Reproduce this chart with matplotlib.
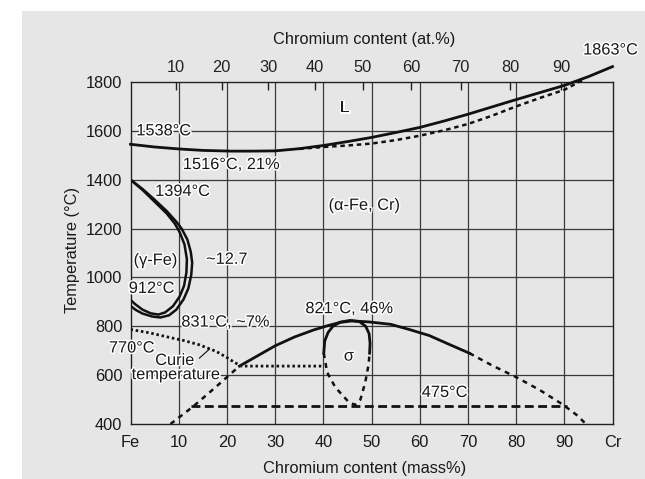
import numpy as np
import matplotlib
matplotlib.use("Agg")
import matplotlib.pyplot as plt
from matplotlib.patches import Rectangle
import matplotlib.patheffects as pe

plt.rcParams['font.family'] = ['Liberation Sans', 'DejaVu Sans']

# ---------------- data (mass% Cr, temperature in °C) ----------------
liq_x = [0, 5, 10, 15, 21, 25, 30, 35, 40, 45, 50, 55, 60, 65, 70, 75, 80, 85, 90, 95, 100]
liq_T = [1545, 1534, 1526, 1520, 1517, 1517, 1518, 1527, 1540, 1556, 1573, 1593, 1614, 1640, 1668, 1698, 1728, 1757, 1786, 1822, 1863]

sol_x = [35, 40, 45, 50, 55, 60, 65, 70, 75, 80, 85, 90, 94]
sol_T = [1526, 1534, 1540, 1548, 1562, 1580, 1602, 1628, 1662, 1700, 1735, 1768, 1810]

gam_out_x = [0, 2.5, 5, 7.5, 9.5, 10.6, 11.8, 12.5, 12.8, 12.6, 12.0, 11.0, 9.5, 8.0, 6.2, 4.5, 2.5, 1.0, 0]
gam_out_T = [1400, 1362, 1318, 1272, 1228, 1200, 1155, 1105, 1060, 1010, 955, 910, 868, 845, 836, 840, 852, 868, 884]

gam_in_x = [0, 2.5, 5, 7.5, 9.2, 10.2, 11.2, 11.7, 11.6, 11.1, 10.2, 8.8, 7.2, 5.8, 4.2, 2.5, 1.0, 0]
gam_in_T = [1400, 1358, 1310, 1262, 1220, 1185, 1135, 1075, 1020, 965, 922, 882, 857, 848, 853, 868, 890, 908]

curie_x = [0, 4, 7.5, 11, 14.3, 17.8, 20, 21.5, 23, 30, 40]
curie_T = [787, 773, 757, 742, 724, 697, 672, 653, 637, 637, 637]

sig_solid_x = [22.6, 26, 30, 34, 38, 41, 43.5, 46, 49.4, 54, 58, 62, 66, 70.3]
sig_solid_T = [637, 675, 720, 756, 785, 803, 816, 822, 818, 808, 786, 762, 727, 690]

sig_dash_r_x = [70.3, 75, 80, 85, 89.5, 92.5, 94.5]
sig_dash_r_T = [690, 640, 592, 538, 482, 438, 400]

sig_dash_l_x = [8.3, 12.9, 17.5, 22.6]
sig_dash_l_T = [400, 470, 548, 637]

loop_top_x = [40.1, 40.3, 41.0, 42.0, 43.5, 45.5, 47.5, 48.8, 49.5, 49.7, 49.6]
loop_top_T = [690, 740, 775, 800, 817, 824, 819, 800, 770, 730, 690]

loop_bot_x = [40.1, 40.8, 42.5, 45.3, 46.6, 47.7, 48.7, 49.4, 49.6]
loop_bot_T = [690, 611, 550, 489, 478, 500, 570, 644, 690]

iso475_x = [12.5, 90.6]
iso475_T = [475, 475]

bottom_ticks = [0, 10, 20, 30, 40, 50, 60, 70, 80, 90, 100]
bottom_labels = ['Fe', '10', '20', '30', '40', '50', '60', '70', '80', '90', 'Cr']
left_ticks = [400, 600, 800, 1000, 1200, 1400, 1600, 1800]
top_ticks_at = [10, 20, 30, 40, 50, 60, 70, 80, 90]

labels = [
    ("L", 44.4, 1696, 'center'),
    ("1538°C", 1.2, 1600, 'left'),
    ("1516°C, 21%", 20.9, 1462, 'center'),
    ("1394°C", 10.8, 1352, 'center'),
    ("(α-Fe, Cr)", 48.5, 1295, 'center'),
    ("(γ-Fe)", 5.2, 1070, 'center'),
    ("~12.7", 20.0, 1074, 'center'),
    ("912°C", 4.4, 955, 'center'),
    ("831°C, ~7%", 19.7, 817, 'center'),
    ("821°C, 46%", 45.4, 872, 'center'),
    ("770°C", 0.3, 711, 'center'),
    ("Curie", 9.2, 660, 'center'),
    ("temperature", 9.4, 602, 'center'),
    ("σ", 45.3, 678, 'center'),
    ("475°C", 65.2, 529, 'center'),
    ("1863°C", 99.6, 1931, 'center'),
]

M_FE, M_CR = 55.845, 51.996


def at2mass(a):
    a = np.asarray(a, dtype=float)
    return 100.0 * M_CR * a / (M_CR * a + M_FE * (100.0 - a))


def mass2at(m):
    m = np.asarray(m, dtype=float)
    return 100.0 * (m / M_CR) / (m / M_CR + (100.0 - m) / M_FE)


W, H = 645, 479
fig = plt.figure(figsize=(W / 100, H / 100), dpi=100)
fig.patch.set_facecolor('white')
bg = '#e6e6e6'
fig.add_artist(Rectangle((22 / W, 0), 1 - 22 / W, 1 - 11 / H, transform=fig.transFigure,
                         facecolor=bg, edgecolor='none', zorder=0))

L, R, T_, B = 130.5, 612.5, 82, 424
ax = fig.add_axes([L / W, 1 - B / H, (R - L) / W, (B - T_) / H])
ax.set_facecolor(bg)
ax.set_xlim(0, 100)
ax.set_ylim(400, 1800)

for s in ax.spines.values():
    s.set_color('#222222')
    s.set_linewidth(1.0)

ax.set_xticks(bottom_ticks)
ax.set_xticklabels(bottom_labels)
ax.set_yticks(left_ticks)
ax.tick_params(axis='both', length=0, labelsize=11.8, colors='#1a1a1a')
ax.tick_params(axis='x', pad=8)
ax.tick_params(axis='y', pad=6)

for xv in range(10, 100, 10):
    ax.axvline(xv, color='#3a3a3a', lw=0.9, zorder=1)
for yv in range(600, 1800, 200):
    ax.axhline(yv, color='#3a3a3a', lw=0.9, zorder=1)

sec = ax.secondary_xaxis('top', functions=(mass2at, at2mass))
sec.set_xticks(top_ticks_at)
sec.tick_params(direction='in', length=6, width=1, colors='#222222', labelsize=11.8, pad=5)
sec.spines['top'].set_visible(False)

k = '#111111'
ax.plot(liq_x, liq_T, color=k, lw=2.0, zorder=3, clip_on=False)
ax.plot(sol_x, sol_T, color=k, lw=1.8, ls=(0, (1.8, 1.5)), zorder=3, clip_on=False)
ax.plot(gam_out_x, gam_out_T, color=k, lw=1.8, zorder=3)
ax.plot(gam_in_x, gam_in_T, color=k, lw=1.8, zorder=3)
ax.plot(curie_x, curie_T, color=k, lw=2.0, ls=(0, (0.9, 1.0)), zorder=3)
ax.plot(sig_solid_x, sig_solid_T, color=k, lw=2.0, zorder=3)
ax.plot(sig_dash_r_x, sig_dash_r_T, color=k, lw=1.8, ls=(0, (2.0, 2.0)), zorder=3)
ax.plot(sig_dash_l_x, sig_dash_l_T, color=k, lw=1.8, ls=(0, (2.0, 2.0)), zorder=3)
ax.plot(loop_top_x, loop_top_T, color=k, lw=2.0, zorder=3)
ax.plot(loop_bot_x, loop_bot_T, color=k, lw=1.8, ls=(0, (2.0, 2.0)), zorder=3)
ax.plot(iso475_x, iso475_T, color=k, lw=2.0, ls=(0, (3.2, 1.6)), zorder=3)

# Curie pointer
ax.plot([14.3, 16.4], [670, 707], color=k, lw=0.8, zorder=3)

halo = [pe.withStroke(linewidth=2.2, foreground='white')]
for txt, xv, yv, ha in labels:
    ax.text(xv, yv, txt, ha=ha, va='center', fontsize=11.8, color='#1a1a1a',
            path_effects=halo, zorder=5, clip_on=False)

fig.text(364 / W, 1 - 39.3 / H, "Chromium content (at.%)", ha='center', va='center',
         fontsize=11.8, color='#1a1a1a')
fig.text(365 / W, 1 - 469 / H, "Chromium content (mass%)", ha='center', va='center',
         fontsize=11.8, color='#1a1a1a')
fig.text(73 / W, 1 - 250 / H, "Temperature (°C)", ha='center', va='center', rotation=90,
         fontsize=11.8, color='#1a1a1a')

fig.savefig('out.png', dpi=100, facecolor=fig.get_facecolor())
